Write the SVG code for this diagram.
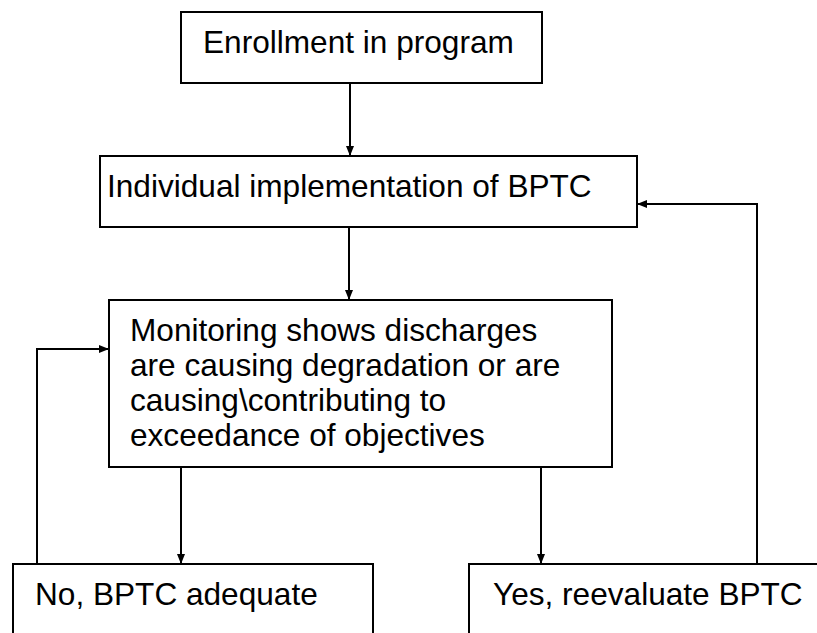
<svg xmlns="http://www.w3.org/2000/svg" width="817" height="633" viewBox="0 0 817 633">
  <style>
    .box { fill: #ffffff; stroke: #000000; stroke-width: 2; }
    .lbl { font-family: "Liberation Sans", Arial, sans-serif; font-size: 31.6px; fill: #000000; }
    .wire { fill: none; stroke: #000000; stroke-width: 2; }
  </style>
  <defs>
    <marker id="arrow" markerWidth="11" markerHeight="10" refX="10" refY="5" orient="auto" markerUnits="userSpaceOnUse">
      <path d="M0,1 L10,5 L0,9 Z" fill="#000000"/>
    </marker>
  </defs>

  <rect width="817" height="633" fill="#ffffff"/>

  <!-- flow connectors -->
  <g id="connectors">
    <line class="wire" x1="350" y1="83" x2="350" y2="156" marker-end="url(#arrow)"/>
    <line class="wire" x1="349" y1="227" x2="349" y2="300" marker-end="url(#arrow)"/>
    <line class="wire" x1="181" y1="467" x2="181" y2="564" marker-end="url(#arrow)"/>
    <line class="wire" x1="541" y1="467" x2="541" y2="564" marker-end="url(#arrow)"/>
    <polyline class="wire" points="37,564 37,349 109,349" marker-end="url(#arrow)"/>
    <polyline class="wire" points="757,564 757,204 637,204" marker-end="url(#arrow)"/>
  </g>

  <g id="enrollment">
    <rect class="box" x="181" y="12" width="361" height="71"/>
    <text class="lbl" x="203" y="53">Enrollment in program</text>
  </g>

  <g id="implementation">
    <rect class="box" x="100" y="156" width="537" height="71"/>
    <text class="lbl" x="107" y="197">Individual implementation of BPTC</text>
  </g>

  <g id="monitoring">
    <rect class="box" x="109" y="300" width="503" height="167"/>
    <text class="lbl" x="130" y="341">Monitoring shows discharges</text>
    <text class="lbl" x="130" y="376">are causing degradation or are</text>
    <text class="lbl" x="130" y="411">causing\contributing to</text>
    <text class="lbl" x="130" y="446">exceedance of objectives</text>
  </g>

  <g id="adequate">
    <rect class="box" x="13" y="564" width="360" height="90"/>
    <text class="lbl" x="35" y="605">No, BPTC adequate</text>
  </g>

  <g id="reevaluate">
    <rect class="box" x="469" y="564" width="370" height="90"/>
    <text class="lbl" x="493" y="605">Yes, reevaluate BPTC</text>
  </g>
</svg>
